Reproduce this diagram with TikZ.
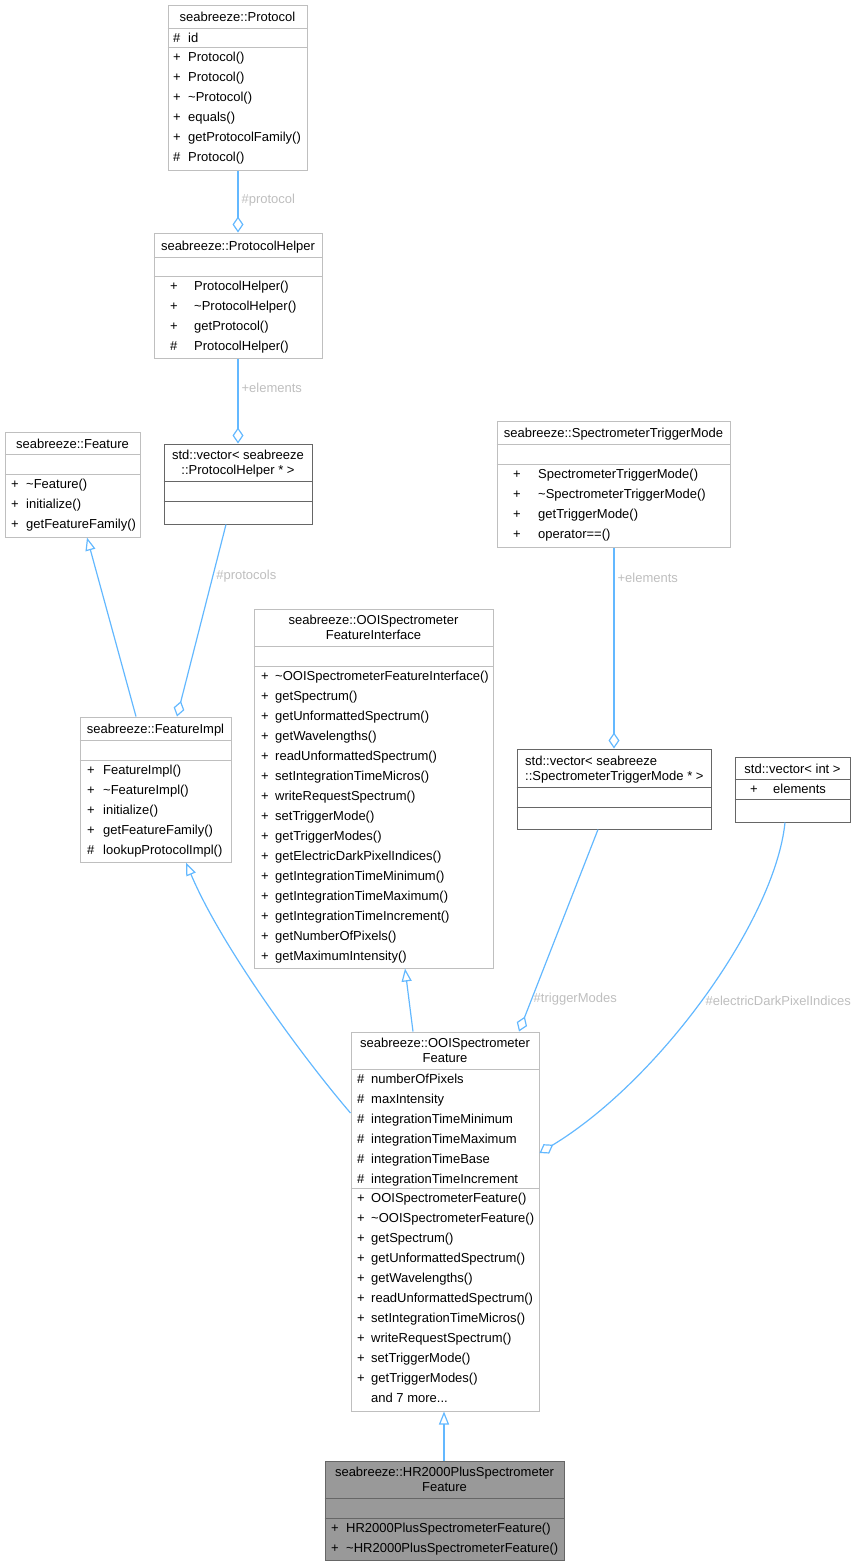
\documentclass[tikz,border=0pt]{standalone}
\usepackage{fontspec}
\setmainfont{Liberation Sans}
\usetikzlibrary{arrows.meta}
\definecolor{linkblue}{HTML}{63B8FF}
\definecolor{lblgrey}{HTML}{BEBEBE}
\definecolor{boxgrey}{HTML}{BFBFBF}
\definecolor{darkgrey}{HTML}{666666}
\definecolor{hrfill}{HTML}{999999}

\begin{document}
\begin{tikzpicture}[x=1pt,y=-1pt]
\tikzstyle{every node}=[font=\fontsize{13}{15}\selectfont,inner sep=0pt];
\tikzstyle{cls}=[draw=boxgrey,line width=1pt,fill=white];
\tikzstyle{ext}=[draw=darkgrey,line width=1pt,fill=white];
\tikzstyle{div}=[boxgrey,line width=1pt];
\tikzstyle{extdiv}=[darkgrey,line width=1pt];
\tikzstyle{mem}=[anchor=base west];
\tikzstyle{ttl}=[anchor=base];
\tikzstyle{lbl}=[text=lblgrey,anchor=west,inner sep=3pt];
\tikzstyle{agg}=[linkblue,line width=1.2pt,-{Diamond[open,length=16pt,width=11pt]}];
\tikzstyle{inh}=[linkblue,line width=1.2pt,-{Triangle[open,length=13pt,width=10pt]}];
\useasboundingbox (0,0) rectangle (863,1567);

% seabreeze::Protocol
\node[cls,minimum width=139pt,minimum height=165pt] (protocol) at (237.5,87.5) {};
\draw[div] (protocol.west |- 0,28) -- (protocol.east |- 0,28);
\draw[div] (protocol.west |- 0,47) -- (protocol.east |- 0,47);
\node[ttl] (protocolT) at (237.5,21) {seabreeze::Protocol};
\node[mem] (protocolA) at (173,42) {\#};
\node[mem] (protocolB) at (188,42) {id};
\foreach \s/\m [count=\i] in {+/Protocol(),+/Protocol(),+/\textasciitilde Protocol(),+/equals(),+/getProtocolFamily(),\#/Protocol()}
{\node[mem] (protocolS\i) at (173,41.5+20*\i) {\s};
 \node[mem] (protocolM\i) at (188,41.5+20*\i) {\m};}

% seabreeze::ProtocolHelper
\node[cls,minimum width=168pt,minimum height=125pt] (helper) at (238,295.5) {};
\draw[div] (helper.west |- 0,257) -- (helper.east |- 0,257);
\draw[div] (helper.west |- 0,276) -- (helper.east |- 0,276);
\node[ttl] (helperT) at (238,250) {seabreeze::ProtocolHelper};
\foreach \s/\m [count=\i] in {+/ProtocolHelper(),+/\textasciitilde ProtocolHelper(),+/getProtocol(),\#/ProtocolHelper()}
{\node[mem] (helperS\i) at (170,270.5+20*\i) {\s};
 \node[mem] (helperM\i) at (194,270.5+20*\i) {\m};}

% std::vector< seabreeze::ProtocolHelper * >
\node[ext,minimum width=148pt,minimum height=80pt] (vecph) at (238,484) {};
\draw[extdiv] (vecph.west |- 0,481) -- (vecph.east |- 0,481);
\draw[extdiv] (vecph.west |- 0,501) -- (vecph.east |- 0,501);
\node[ttl] (vecphT1) at (238,459.5) {std::vector< seabreeze};
\node[ttl] (vecphT2) at (238,474.5) {::ProtocolHelper * >};

% seabreeze::Feature
\node[cls,minimum width=135pt,minimum height=105pt] (feature) at (72.5,484.5) {};
\draw[div] (feature.west |- 0,454) -- (feature.east |- 0,454);
\draw[div] (feature.west |- 0,474) -- (feature.east |- 0,474);
\node[ttl] (featureT) at (72.5,448) {seabreeze::Feature};
\foreach \s/\m [count=\i] in {+/\textasciitilde Feature(),+/initialize(),+/getFeatureFamily()}
{\node[mem] (featureS\i) at (11,468.5+20*\i) {\s};
 \node[mem] (featureM\i) at (26,468.5+20*\i) {\m};}

% seabreeze::FeatureImpl
\node[cls,minimum width=151pt,minimum height=145pt] (fimpl) at (155.5,789.5) {};
\draw[div] (fimpl.west |- 0,740) -- (fimpl.east |- 0,740);
\draw[div] (fimpl.west |- 0,760) -- (fimpl.east |- 0,760);
\node[ttl] (fimplT) at (155.5,733) {seabreeze::FeatureImpl};
\foreach \s/\m [count=\i] in {+/FeatureImpl(),+/\textasciitilde FeatureImpl(),+/initialize(),+/getFeatureFamily(),\#/lookupProtocolImpl()}
{\node[mem] (fimplS\i) at (87,754.5+20*\i) {\s};
 \node[mem] (fimplM\i) at (103,754.5+20*\i) {\m};}

% seabreeze::OOISpectrometerFeatureInterface
\node[cls,minimum width=239pt,minimum height=359pt] (ooisfi) at (373.5,788.5) {};
\draw[div] (ooisfi.west |- 0,646) -- (ooisfi.east |- 0,646);
\draw[div] (ooisfi.west |- 0,666) -- (ooisfi.east |- 0,666);
\node[ttl] (ooisfiT1) at (373.5,624.5) {seabreeze::OOISpectrometer};
\node[ttl] (ooisfiT2) at (373.5,639.5) {FeatureInterface};
\foreach \m [count=\i] in {\textasciitilde OOISpectrometerFeatureInterface(),getSpectrum(),getUnformattedSpectrum(),getWavelengths(),readUnformattedSpectrum(),setIntegrationTimeMicros(),writeRequestSpectrum(),setTriggerMode(),getTriggerModes(),getElectricDarkPixelIndices(),getIntegrationTimeMinimum(),getIntegrationTimeMaximum(),getIntegrationTimeIncrement(),getNumberOfPixels(),getMaximumIntensity()}
{\node[mem] (ooisfiS\i) at (261,660.5+20*\i) {+};
 \node[mem] (ooisfiM\i) at (275,660.5+20*\i) {\m};}

% seabreeze::SpectrometerTriggerMode
\node[cls,minimum width=233pt,minimum height=126pt] (stm) at (613.5,484) {};
\draw[div] (stm.west |- 0,444) -- (stm.east |- 0,444);
\draw[div] (stm.west |- 0,464) -- (stm.east |- 0,464);
\node[ttl] (stmT) at (613.5,437) {seabreeze::SpectrometerTriggerMode};
\foreach \m [count=\i] in {SpectrometerTriggerMode(),\textasciitilde SpectrometerTriggerMode(),getTriggerMode(),operator==()}
{\node[mem] (stmS\i) at (513,458.5+20*\i) {+};
 \node[mem] (stmM\i) at (538,458.5+20*\i) {\m};}

% std::vector< seabreeze::SpectrometerTriggerMode * >
\node[ext,minimum width=194pt,minimum height=80pt] (vecstm) at (614,789) {};
\draw[extdiv] (vecstm.west |- 0,787) -- (vecstm.east |- 0,787);
\draw[extdiv] (vecstm.west |- 0,807) -- (vecstm.east |- 0,807);
\node[mem] (vecstmT1) at (525,765) {std::vector< seabreeze};
\node[mem] (vecstmT2) at (525,780) {::SpectrometerTriggerMode * >};

% std::vector< int >
\node[ext,minimum width=115pt,minimum height=65pt] (vecint) at (792.5,789.5) {};
\draw[extdiv] (vecint.west |- 0,779) -- (vecint.east |- 0,779);
\draw[extdiv] (vecint.west |- 0,799) -- (vecint.east |- 0,799);
\node[ttl] (vecintT) at (792.5,773) {std::vector< int >};
\node[mem] (vecintS) at (750,793.5) {+};
\node[mem] (vecintM) at (773,793.5) {elements};

% seabreeze::OOISpectrometerFeature
\node[cls,minimum width=188pt,minimum height=379pt] (ooisf) at (445,1221.5) {};
\draw[div] (ooisf.west |- 0,1069) -- (ooisf.east |- 0,1069);
\draw[div] (ooisf.west |- 0,1188) -- (ooisf.east |- 0,1188);
\node[ttl] (ooisfT1) at (445,1047.5) {seabreeze::OOISpectrometer};
\node[ttl] (ooisfT2) at (445,1062.5) {Feature};
\foreach \m [count=\i] in {numberOfPixels,maxIntensity,integrationTimeMinimum,integrationTimeMaximum,integrationTimeBase,integrationTimeIncrement}
{\node[mem] (ooisfA\i) at (357,1063.5+20*\i) {\#};
 \node[mem] (ooisfB\i) at (371,1063.5+20*\i) {\m};}
\foreach \m [count=\i] in {OOISpectrometerFeature(),\textasciitilde OOISpectrometerFeature(),getSpectrum(),getUnformattedSpectrum(),getWavelengths(),readUnformattedSpectrum(),setIntegrationTimeMicros(),writeRequestSpectrum(),setTriggerMode(),getTriggerModes()}
{\node[mem] (ooisfS\i) at (357,1182.5+20*\i) {+};
 \node[mem] (ooisfM\i) at (371,1182.5+20*\i) {\m};}
\node[mem] (ooisfMore) at (371,1402.5) {and 7 more...};

% seabreeze::HR2000PlusSpectrometerFeature
\node[draw=darkgrey,fill=hrfill,line width=1pt,minimum width=239pt,minimum height=99pt] (hr) at (444.5,1510.5) {};
\draw[extdiv] (hr.west |- 0,1498) -- (hr.east |- 0,1498);
\draw[extdiv] (hr.west |- 0,1518) -- (hr.east |- 0,1518);
\node[ttl] (hrT1) at (444.5,1476.5) {seabreeze::HR2000PlusSpectrometer};
\node[ttl] (hrT2) at (444.5,1491.5) {Feature};
\foreach \m [count=\i] in {HR2000PlusSpectrometerFeature(),\textasciitilde HR2000PlusSpectrometerFeature()}
{\node[mem] (hrS\i) at (331,1512.5+20*\i) {+};
 \node[mem] (hrM\i) at (346,1512.5+20*\i) {\m};}

% connectors
\draw[agg] (protocol.south -| 238,0) -- (helper.north -| 238,0) node[lbl,pos=0.47] (l1) {\#protocol};
\draw[agg] (helper.south -| 238,0) -- (vecph.north -| 238,0) node[lbl,pos=0.35] (l2) {+elements};
\draw[agg] (vecph.south -| 226,0) -- (fimpl.north -| 177,0) node[lbl,pos=0.27] (l3) {\#protocols};
\draw[inh] (fimpl.north -| 136,0) -- (feature.south -| 87,0);
\draw[agg] (stm.south -| 614,0) -- (vecstm.north -| 614,0) node[lbl,pos=0.15] (l4) {+elements};
\draw[agg] (vecstm.south -| 598,0) -- (ooisf.north -| 519,0) node[lbl,pos=0.84,inner sep=1.5pt] (l5) {\#triggerModes};
\draw[agg] (vecint.south -| 785,0) .. controls (775,920) and (660,1080) .. (ooisf.east |- 0,1153) node[lbl,pos=0.51,inner sep=4pt] (l6) {\#electricDarkPixelIndices};
\draw[inh] (ooisf.west |- 0,1113) .. controls (305,1060) and (222,948) .. (fimpl.south -| 186,0);
\draw[inh] (ooisf.north -| 413,0) -- (ooisfi.south -| 405,0);
\draw[inh] (hr.north -| 444,0) -- (ooisf.south -| 444,0);
\end{tikzpicture}
\end{document}
